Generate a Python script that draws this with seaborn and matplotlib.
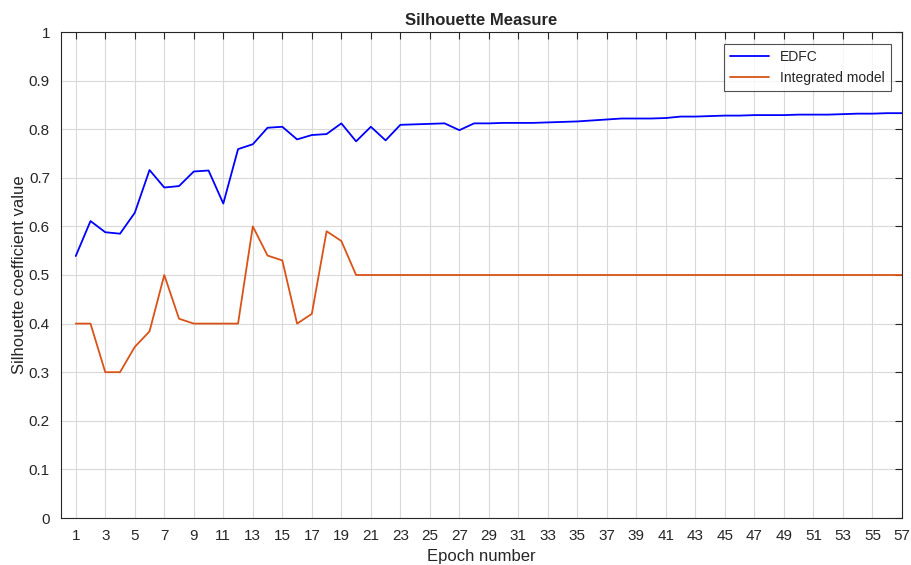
import numpy as np
import pandas as pd
import matplotlib
matplotlib.use("Agg")
import matplotlib.pyplot as plt
import seaborn as sns

epochs = list(range(1, 58))
edfc = [0.539, 0.611, 0.588, 0.585, 0.628, 0.716, 0.680, 0.683, 0.713, 0.715,
        0.647, 0.759, 0.769, 0.803, 0.805, 0.779, 0.788, 0.790, 0.812, 0.775,
        0.805, 0.777, 0.809, 0.810, 0.811, 0.812, 0.798, 0.812, 0.812, 0.813,
        0.813, 0.813, 0.814, 0.815, 0.816, 0.818, 0.820, 0.822, 0.822, 0.822,
        0.823, 0.826, 0.826, 0.827, 0.828, 0.828, 0.829, 0.829, 0.829, 0.830,
        0.830, 0.830, 0.831, 0.832, 0.832, 0.833, 0.833]
integrated = [0.40, 0.40, 0.30, 0.30, 0.352, 0.384, 0.50, 0.41, 0.40, 0.40,
              0.40, 0.40, 0.60, 0.54, 0.53, 0.40, 0.42, 0.59, 0.57, 0.50] + [0.50] * 37
series_names = ["EDFC", "Integrated model"]
xticks = list(range(1, 58, 2))
yticks = [0, 0.1, 0.2, 0.3, 0.4, 0.5, 0.6, 0.7, 0.8, 0.9, 1]
ytick_labels = ["0", "0.1", "0.2", "0.3", "0.4", "0.5", "0.6", "0.7", "0.8", "0.9", "1"]

df = pd.DataFrame({
    "Epoch": epochs * 2,
    "Value": edfc + integrated,
    "Series": [series_names[0]] * len(edfc) + [series_names[1]] * len(integrated),
})

sns.set_theme(style="white")
plt.rcParams['font.family'] = ['Liberation Sans', 'DejaVu Sans']

fig = plt.figure(figsize=(9.12, 5.65), dpi=100)
ax = fig.add_axes([61 / 912, (565 - 518) / 565, (902 - 61) / 912, (518 - 32) / 565])

palette = {"EDFC": (0.0, 0.0, 1.0), "Integrated model": (0.85, 0.325, 0.098)}
sns.lineplot(data=df, x="Epoch", y="Value", hue="Series", palette=palette,
             linewidth=1.3, ax=ax)

ax.set_xlim(0, 57)
ax.set_ylim(0, 1)
ax.set_xticks(xticks)
ax.set_xticklabels([str(t) for t in xticks])
ax.set_yticks(yticks)
ax.set_yticklabels(ytick_labels)
ax.grid(True, color=(0.85, 0.85, 0.85), linewidth=0.8)
ax.set_axisbelow(True)
for s in ax.spines.values():
    s.set_color((0.15, 0.15, 0.15))
    s.set_linewidth(0.8)
ax.tick_params(direction="in", top=True, right=True, length=5, width=0.8,
               colors=(0.15, 0.15, 0.15), labelsize=11, pad=8)
ax.set_xlabel("Epoch number", fontsize=12, color=(0.15, 0.15, 0.15), labelpad=4)
ax.set_ylabel("Silhouette coefficient value", fontsize=12, color=(0.15, 0.15, 0.15),
              labelpad=1)
ax.set_title("Silhouette Measure", fontsize=12, fontweight="bold", pad=5)

leg = ax.legend(loc="upper right", fontsize=10, frameon=True, fancybox=False,
                edgecolor=(0.15, 0.15, 0.15), bbox_to_anchor=(0.9955, 0.9895),
                handlelength=2.8, borderpad=0.45, labelspacing=0.45)
leg.get_frame().set_linewidth(0.8)

fig.savefig("out.png", dpi=100)
